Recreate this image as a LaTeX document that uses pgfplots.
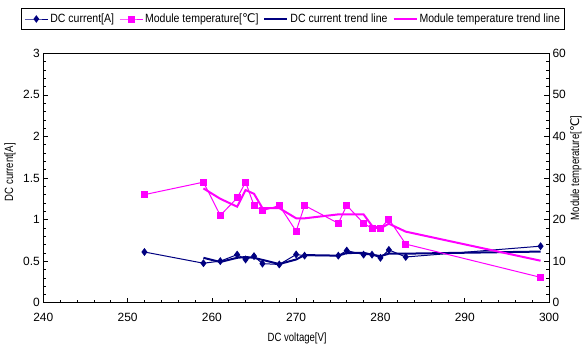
\documentclass[border=0pt]{standalone}
\usepackage{fontspec}
\setmainfont{Liberation Sans}
\newfontfamily\djv{DejaVu Sans}
\newfontfamily\narrow[FakeStretch=0.8]{Liberation Sans}
\newfontfamily\legfont[FakeStretch=0.88]{Liberation Sans}
\usepackage{pgfplots}
\pgfplotsset{compat=1.18}
\definecolor{navy}{HTML}{000080}
\definecolor{mag}{HTML}{FF00FF}

\pgfplotstableread{
V I
252 0.61
259 0.475
261 0.50
263 0.578
264 0.52
265 0.56
266 0.47
268 0.46
270 0.58
271 0.566
275 0.566
276 0.627
278 0.578
279 0.578
280 0.54
281 0.635
283 0.55
299 0.68
}\current

\pgfplotstableread{
V I
259 0.54
261 0.49
263 0.54
264 0.55
265 0.54
266 0.515
268 0.465
270 0.52
271 0.573
275 0.566
276 0.597
278 0.60
279 0.578
280 0.56
281 0.59
283 0.59
299 0.615
}\currenttrend

\pgfplotstableread{
V T
252 26.0
259 29.0
261 21.0
263 25.2
264 29.0
265 23.4
266 22.1
268 23.4
270 17.2
271 23.4
275 19.1
276 23.4
278 19.1
279 17.9
280 17.9
281 20.1
283 14.1
299 6.1
}\temp

\pgfplotstableread{
V T
259 27.5
261 25.0
263 23.1
264 27.1
265 26.2
266 22.75
268 22.75
270 20.3
271 20.3
275 21.25
276 21.25
278 21.25
279 18.5
280 17.9
281 19.0
283 17.1
299 10.1
}\temptrend

\begin{document}
\begin{tikzpicture}[x=1bp,y=1bp]
\useasboundingbox (0,0) rectangle (584,354);
\pgfplotsset{
  common/.style={
    scale only axis,
    width=505.7bp, height=249.4bp,
    at={(43.3bp,51.3bp)}, anchor=south west,
    xmin=240, xmax=300,
    tick align=inside,
    major tick length=5bp, minor tick length=3bp,
    tick style={black, line width=0.5bp},
    axis line style={line width=0.8bp},
    ticklabel style={font=\fontsize{12}{14}\selectfont},
    label style={font=\narrow\fontsize{12}{14}\selectfont},
    /pgf/number format/assume math mode=true,
  }
}
\begin{axis}[common,
  ymin=0, ymax=3,
  xtick={240,250,...,300}, minor x tick num=4,
  ytick={0,0.5,...,3}, minor y tick num=4,
  xtick pos=bottom, ytick pos=left,
  xticklabel style={yshift=-7bp},
  xlabel={DC voltage[V]},
  xlabel style={at={(axis description cs:0.502,-0.142)}, anchor=center},
  ylabel={DC current[A]},
  ylabel style={at={(axis description cs:-0.066,0.523)}, anchor=center, rotate=0},
  yticklabel style={/pgf/number format/.cd, fixed, precision=1},
]
\addplot[navy, line width=1bp, mark=diamond*, mark size=3.2bp, mark options={solid, fill=navy}] table[x=V,y=I]{\current};
\addplot[navy, line width=2bp, no marks] table[x=V,y=I]{\currenttrend};
\end{axis}
\begin{axis}[common,
  ymin=0, ymax=60,
  axis x line=none,
  axis y line*=right,
  ytick={0,10,...,60}, minor y tick num=4,
  ylabel={Module temperature[{\djv ℃}]},
  ylabel style={at={(axis description cs:1.053,0.54)}, anchor=center, rotate=0},
  legend columns=4,
  legend style={at={(axis description cs:0.494,1.1375)}, anchor=center,
    draw=black, line width=0.8bp, font=\legfont\fontsize{12}{14}\selectfont,
    inner xsep=3bp, inner ysep=3bp,
    /tikz/every even column/.append style={column sep=3bp}},
  legend cell align=left,
  legend image code/.code={\draw[mark repeat=2,mark phase=2] plot coordinates {(0bp,0bp) (11.5bp,0bp) (23bp,0bp)};},
]
\addlegendimage{navy, line width=1bp, mark=diamond*, mark size=3bp, mark options={fill=navy}}
\addlegendentry{DC current[A]}
\addplot[mag, line width=1bp, mark=square*, mark size=3bp, mark options={solid, fill=mag}] table[x=V,y=T]{\temp};
\addlegendentry{Module temperature[{\djv ℃}]}
\addlegendimage{navy, line width=2bp}
\addlegendentry{DC current trend line}
\addplot[mag, line width=2bp, no marks] table[x=V,y=T]{\temptrend};
\addlegendentry{Module temperature trend line}
\end{axis}
\end{tikzpicture}
\end{document}
